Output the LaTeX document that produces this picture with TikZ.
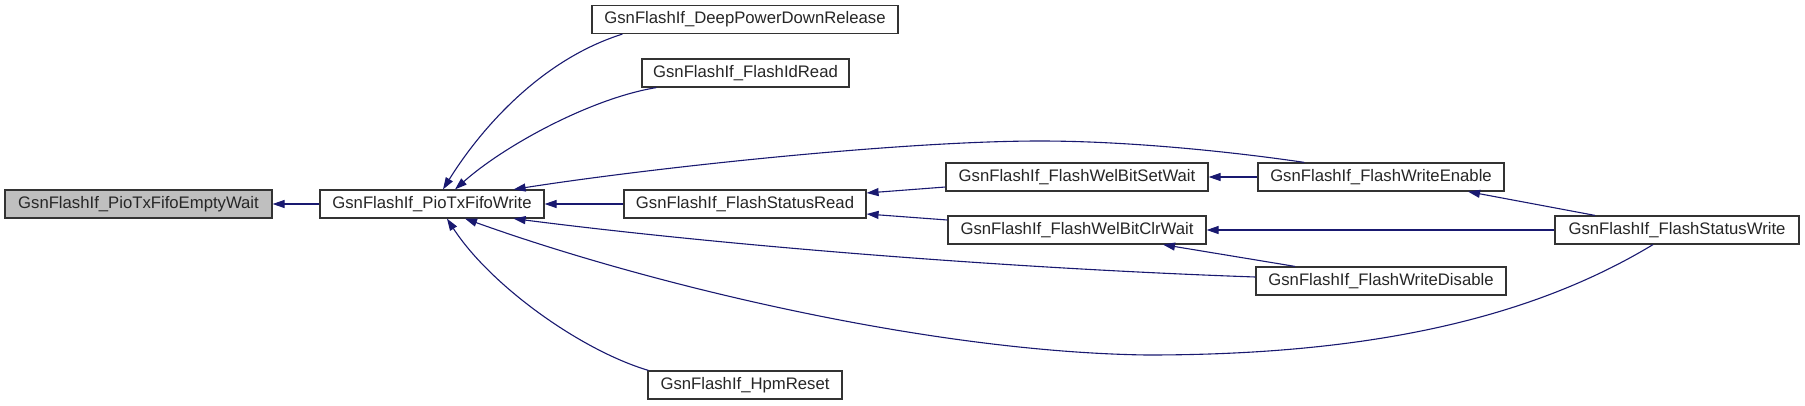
\documentclass[tikz,border=0pt]{standalone}
\usepackage{fontspec}
\setmainfont{Liberation Sans}
\usetikzlibrary{arrows.meta,calc}
\definecolor{edgeblue}{HTML}{191970}
\definecolor{nodegray}{HTML}{BFBFBF}
\definecolor{boxline}{HTML}{333333}
\begin{document}
\begin{tikzpicture}[x=1pt,y=-1pt,
  box/.style={draw=boxline, line width=1.2pt, fill=white, minimum height=28pt, inner sep=0pt,
    font=\fontsize{16.7}{19}\selectfont, text=black!85},
  edge/.style={draw=edgeblue, line width=1.1pt, -{Triangle[length=12pt,width=8pt]}}]
\useasboundingbox (0,0) rectangle (1805,405);
% nodes
\node[box, fill=nodegray, minimum width=267pt] (n1) at (138.5,204) {GsnFlashIf\_PioTxFifoEmptyWait};
\node[box, minimum width=224pt] (n2) at (432,204) {GsnFlashIf\_PioTxFifoWrite};
\node[box, minimum width=306pt] (dpdr) at (745,19.5) {GsnFlashIf\_DeepPowerDownRelease};
\node[box, minimum width=207pt] (fidr) at (745.5,73) {GsnFlashIf\_FlashIdRead};
\node[box, minimum width=242pt] (fsr) at (745,204) {GsnFlashIf\_FlashStatusRead};
\node[box, minimum width=194pt] (hpm) at (745,385) {GsnFlashIf\_HpmReset};
\node[box, minimum width=262pt] (wset) at (1077,177) {GsnFlashIf\_FlashWelBitSetWait};
\node[box, minimum width=258pt] (wclr) at (1077,230) {GsnFlashIf\_FlashWelBitClrWait};
\node[box, minimum width=246pt] (fwe) at (1381,177) {GsnFlashIf\_FlashWriteEnable};
\node[box, minimum width=250pt] (fwd) at (1381,281) {GsnFlashIf\_FlashWriteDisable};
\node[box, minimum width=244pt] (fsw) at (1677,230) {GsnFlashIf\_FlashStatusWrite};
% edges (caller -> callee, tip at callee)
\draw[edge] (n2.west) -- (n1.east);
\draw[edge] ($(dpdr.south west)+(31,0)$) .. controls (540,60) and (480,130) .. ($(n2.north)+(11,0)$);
\draw[edge] ($(fidr.south west)+(15,0)$) .. controls (592,98) and (505,145) .. ($(n2.north)+(23,0)$);
\draw[edge] ($(fwe.north west)+(47,0)$) .. controls (1220,150) and (1120,141) .. (1040,141)
  .. controls (900,141) and (650,168) .. ($(n2.north east)+(-31,0)$);
\draw[edge] (fsr.west) -- (n2.east);
\draw[edge] ($(fwd.west)+(0,-4)$) .. controls (1000,268) and (720,245) .. ($(n2.south east)+(-31,0)$);
\draw[edge] ($(hpm.north west)+(1,0)$) .. controls (580,350) and (490,285) .. ($(n2.south)+(15,0)$);
\draw[edge] ($(fsw.south)+(-24,0)$) .. controls (1520,325) and (1350,355) .. (1147,355)
  .. controls (930,352) and (650,285) .. ($(n2.south)+(33,0)$);
\draw[edge] ($(wset.west)+(0,10)$) -- ($(fsr.east)+(0,-11)$);
\draw[edge] ($(wclr.west)+(0,-10)$) -- ($(fsr.east)+(0,10)$);
\draw[edge] (fwe.west) -- (wset.east);
\draw[edge] (fsw.west) -- (wclr.east);
\draw[edge] ($(fwd.north)+(-86,0)$) -- ($(wclr.south)+(86,0)$);
\draw[edge] ($(fsw.north)+(-82,0)$) -- ($(fwe.south)+(87,0)$);
\end{tikzpicture}
\end{document}
